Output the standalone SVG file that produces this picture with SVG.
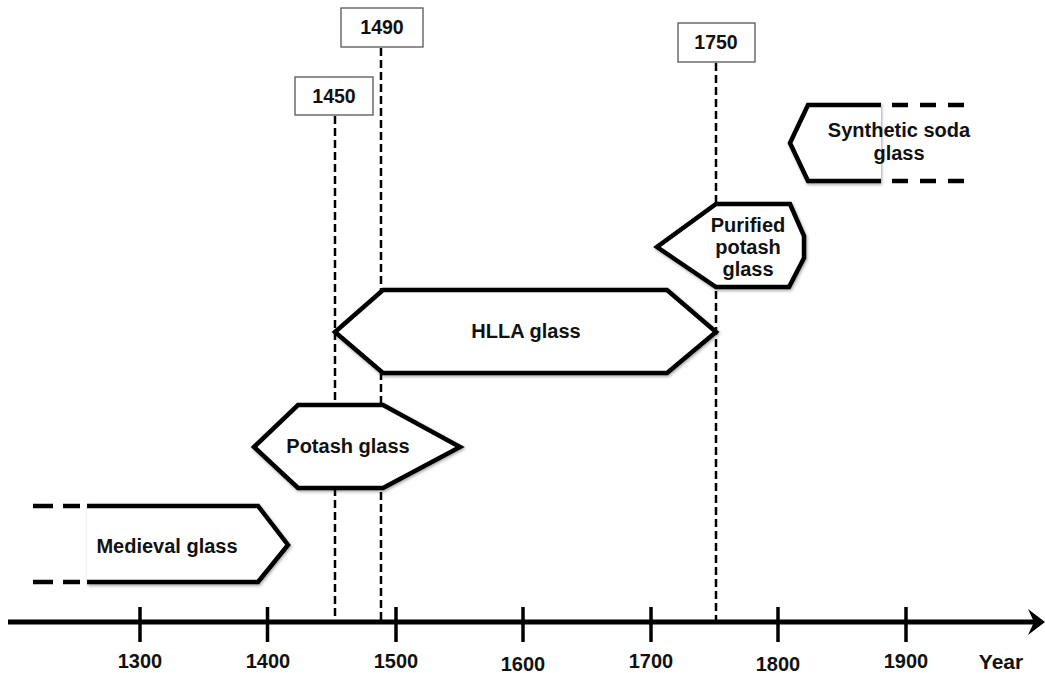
<svg xmlns="http://www.w3.org/2000/svg" width="1045" height="673" viewBox="0 0 1045 673">
  <style>
    .lbl { font-family: "Liberation Sans", Arial, sans-serif; font-weight: bold; font-size: 20px; fill: #111; text-anchor: middle; }
    .yr { font-family: "Liberation Sans", Arial, sans-serif; font-weight: bold; font-size: 20px; fill: #111; text-anchor: middle; }
    .box { fill: #fff; stroke: #555; stroke-width: 1.3; }
    .boxt { font-family: "Liberation Sans", Arial, sans-serif; font-weight: bold; font-size: 19.5px; fill: #111; text-anchor: middle; }
    .shape { fill: #fff; stroke: #000; stroke-width: 4.5; stroke-linejoin: miter; filter: url(#sh); }
    .dash { fill: none; stroke: #000; stroke-width: 4.5; }
    .vline { fill: none; stroke: #000; stroke-width: 2.5; stroke-dasharray: 8 4; }
    .tick { stroke: #000; stroke-width: 3.5; }
  </style>
  <defs>
    <filter id="sh" x="-10%" y="-20%" width="120%" height="140%">
      <feDropShadow dx="1" dy="1.5" stdDeviation="1.8" flood-color="#000" flood-opacity="0.35"/>
    </filter>
  </defs>
  <rect width="1045" height="673" fill="#fff"/>

  <g id="connectors">
    <line class="vline" x1="335" y1="116" x2="335" y2="620"/>
    <line class="vline" x1="381" y1="48" x2="381" y2="620"/>
    <line class="vline" x1="716" y1="63" x2="716" y2="620"/>
  </g>

  <g id="axis">
    <line x1="8" y1="622" x2="1036" y2="622" stroke="#000" stroke-width="5"/>
    <path d="M1028,609 L1045,622 L1028,635 L1034,622 Z" fill="#000"/>
    <line class="tick" x1="140" y1="607" x2="140" y2="642"/>
    <line class="tick" x1="267.5" y1="607" x2="267.5" y2="642"/>
    <line class="tick" x1="396" y1="607" x2="396" y2="642"/>
    <line class="tick" x1="523" y1="607" x2="523" y2="642"/>
    <line class="tick" x1="651" y1="607" x2="651" y2="642"/>
    <line class="tick" x1="778" y1="607" x2="778" y2="642"/>
    <line class="tick" x1="906" y1="607" x2="906" y2="642"/>
    <text class="yr" x="140" y="668">1300</text>
    <text class="yr" x="268" y="668">1400</text>
    <text class="yr" x="396" y="668">1500</text>
    <text class="yr" x="523" y="671">1600</text>
    <text class="yr" x="651" y="668">1700</text>
    <text class="yr" x="778" y="671">1800</text>
    <text class="yr" x="906" y="668">1900</text>
    <text x="1001" y="669" font-family="'Liberation Sans', Arial, sans-serif" font-weight="bold" font-size="21" fill="#111" text-anchor="middle">Year</text>
  </g>

  <g id="box-1450">
    <rect class="box" x="295" y="77" width="78" height="38"/>
    <text class="boxt" x="334" y="103">1450</text>
  </g>
  <g id="box-1490">
    <rect class="box" x="341" y="8" width="82" height="39"/>
    <text class="boxt" x="382" y="34">1490</text>
  </g>
  <g id="box-1750">
    <rect class="box" x="678" y="23" width="77" height="39"/>
    <text class="boxt" x="716" y="49">1750</text>
  </g>

  <g id="medieval-glass">
    <path class="shape" d="M87,506 L258,506 L288,545 L258,582 L87,582"/>
    <path d="M33,506 L80,506 M33,582 L80,582" class="dash" stroke-dasharray="20 10"/>
    <text class="lbl" x="167" y="553">Medieval glass</text>
  </g>

  <g id="potash-glass">
    <polygon class="shape" points="298,405 383,405 460,447 383,488 298,488 254,447"/>
    <text class="lbl" x="348" y="453">Potash glass</text>
  </g>

  <g id="hlla-glass">
    <polygon class="shape" points="383,290 667,290 716,332 667,373 383,373 335,332"/>
    <text class="lbl" x="526" y="338">HLLA glass</text>
  </g>

  <g id="purified-potash-glass">
    <polygon class="shape" points="716,204 790,204 804,236 804,258 789,287 716,287 657,247"/>
    <text class="lbl" x="748" y="232">Purified</text>
    <text class="lbl" x="748" y="254">potash</text>
    <text class="lbl" x="748" y="276">glass</text>
  </g>

  <g id="synthetic-soda-glass">
    <path class="shape" d="M881,105 L808,105 L790,143 L808,181 L881,181"/>
    <path d="M892,105 L970,105 M892,181 L970,181" class="dash" stroke-dasharray="16 12"/>
    <text class="lbl" x="899" y="137">Synthetic soda</text>
    <text class="lbl" x="899" y="160">glass</text>
  </g>
</svg>
